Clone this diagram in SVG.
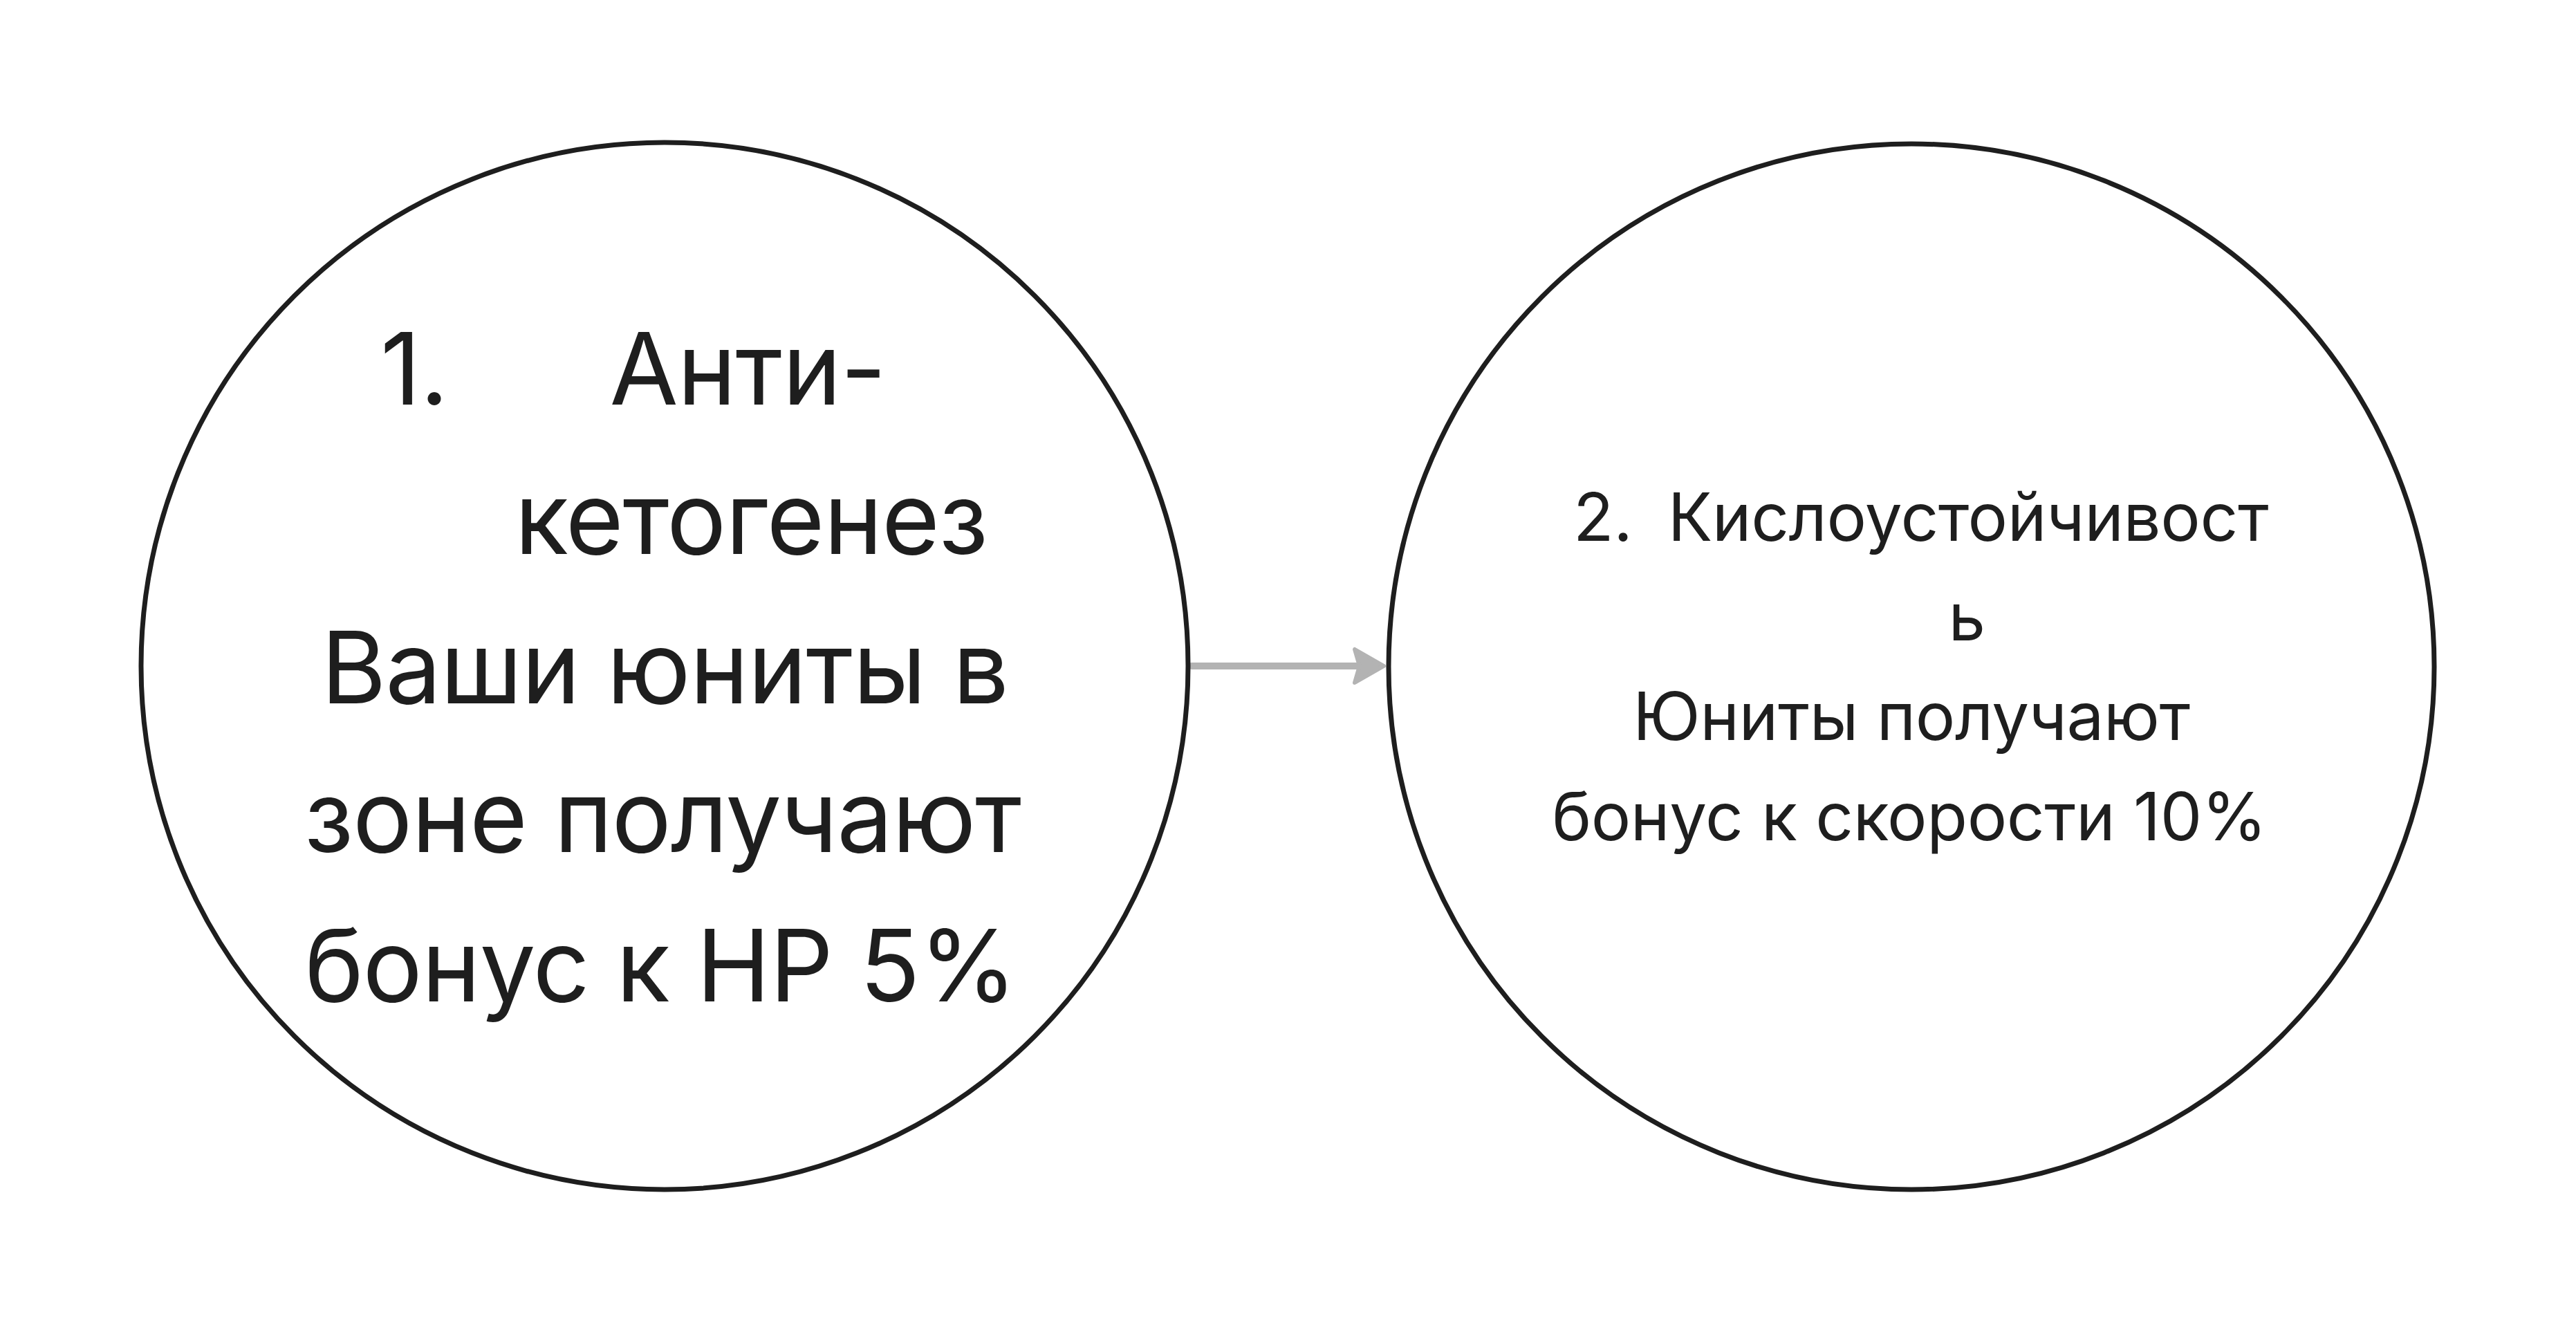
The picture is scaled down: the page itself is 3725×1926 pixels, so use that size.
<svg xmlns="http://www.w3.org/2000/svg" width="3725" height="1926" viewBox="0 0 3725 1926">
<style>
.node{fill:#ffffff;stroke:#1e1e1e;stroke-width:7}
.t{font-family:Inter,"Noto Sans","Liberation Sans",sans-serif;fill:#1e1e1e}
.big{font-size:144px;letter-spacing:-1.2px}
.small{font-size:96px;letter-spacing:-0.4px}
.conn{stroke:#b3b3b3;stroke-width:10;stroke-linecap:round;fill:none}
.head{fill:#b3b3b3;stroke:#b3b3b3;stroke-width:6;stroke-linejoin:round}
</style>
<rect width="3725" height="1926" fill="#ffffff"/>
<g id="connectors">
<line class="conn" x1="1723" y1="963" x2="1985" y2="963"/>
<polygon class="head" points="2001,963 1959,939 1966,963 1959,987"/>
</g>
<g id="node1">
<circle class="node" cx="961" cy="963" r="757"/>
<text class="t big" x="550" y="585">1.</text>
<text class="t big" x="1081" y="585" text-anchor="middle">Анти-</text>
<text class="t big" x="1086" y="801" text-anchor="middle">кетогенез</text>
<text class="t big" x="961" y="1017" text-anchor="middle">Ваши юниты в</text>
<text class="t big" x="958" y="1232" text-anchor="middle">зоне получают</text>
<text class="t big" x="955" y="1448" text-anchor="middle">бонус к HP 5%</text>
</g>
<g id="node2">
<circle class="node" cx="2764" cy="964" r="756"/>
<text class="t small" x="2275" y="782">2.</text>
<text class="t small" x="2846" y="782" text-anchor="middle">Кислоустойчивост</text>
<text class="t small" x="2844" y="926" text-anchor="middle">ь</text>
<text class="t small" x="2764" y="1070" text-anchor="middle">Юниты получают</text>
<text class="t small" x="2761" y="1215" text-anchor="middle">бонус к скорости 10%</text>
</g>
</svg>
